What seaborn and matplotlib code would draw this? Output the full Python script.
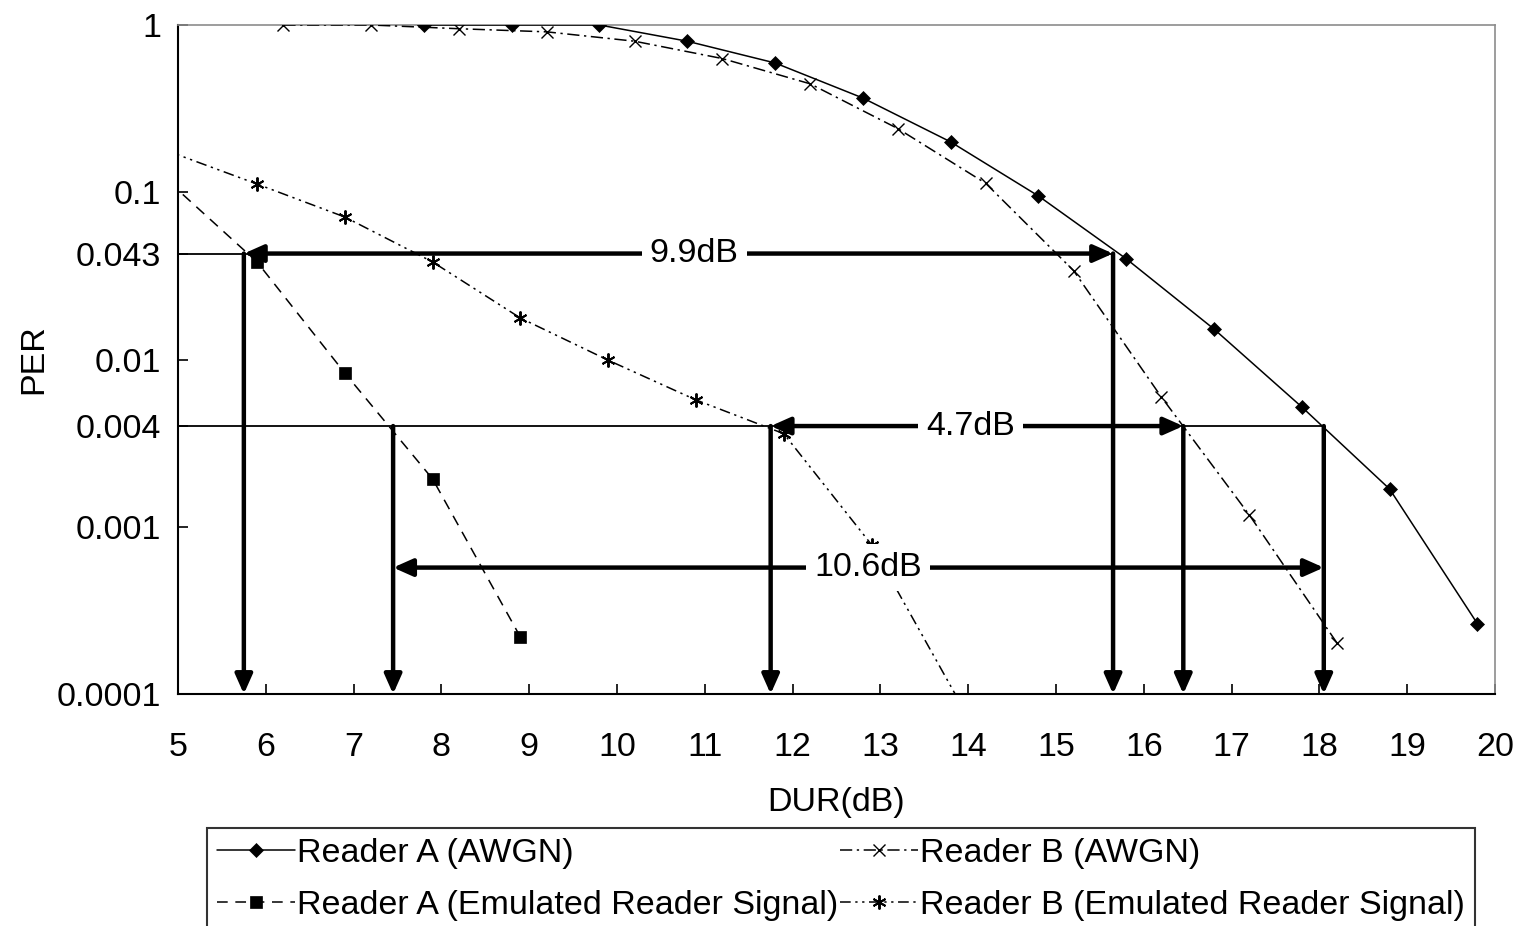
import matplotlib
matplotlib.use("Agg")
import matplotlib.pyplot as plt
import seaborn as sns
import numpy as np
from matplotlib.ticker import NullLocator, FixedLocator, FixedFormatter

# ---------------- data ----------------
a_awgn_x = [7.8, 8.8, 9.8, 10.8, 11.8, 12.8, 13.8, 14.8, 15.8, 16.8, 17.8, 18.8, 19.8]
a_awgn_y = [1.0, 1.0, 1.0, 0.80, 0.593, 0.366, 0.20, 0.095, 0.040, 0.0152, 0.0052, 0.00168, 0.000263]

b_awgn_x = [6.2, 7.2, 8.2, 9.2, 10.2, 11.2, 12.2, 13.2, 14.2, 15.2, 16.2, 17.2, 18.2]
b_awgn_y = [1.0, 1.0, 0.95, 0.91, 0.80, 0.63, 0.445, 0.24, 0.113, 0.034, 0.00597, 0.00118, 0.000202]

a_emu_x = [4.9, 5.9, 6.9, 7.9, 8.9]
a_emu_y = [0.115, 0.0383, 0.0083, 0.00193, 0.000219]

b_emu_x = [4.9, 5.9, 6.9, 7.9, 8.9, 9.9, 10.9, 11.9, 12.9, 13.9]
b_emu_y = [0.175, 0.112, 0.0711, 0.0383, 0.0177, 0.0099, 0.00573, 0.0036, 0.00078, 0.00009]

series_labels = ["Reader A (AWGN)", "Reader B (AWGN)",
                 "Reader A (Emulated Reader Signal)", "Reader B (Emulated Reader Signal)"]

ytick_vals = [1, 0.1, 0.043, 0.01, 0.004, 0.001, 0.0001]
ytick_labels = ["1", "0.1", "0.043", "0.01", "0.004", "0.001", "0.0001"]
xtick_vals = list(range(5, 21))

# annotation levels / positions (dB)
lvl_hi = 0.043
lvl_lo = 0.004
lvl_gap = 0.00057
arrow_99 = (5.75, 15.65)
arrow_47 = (11.75, 16.45)
arrow_106 = (7.45, 18.05)
txt_99, txt_47, txt_106 = "9.9dB", "4.7dB", "10.6dB"

# ---------------- style ----------------
sns.set_theme(style="white")
plt.rcParams["font.family"] = ["Liberation Sans", "DejaVu Sans"]
FS = 24.5

fig = plt.figure(figsize=(15.17, 9.26), dpi=100)
ax = fig.add_axes([178/1517, 1-694/926, (1495-178)/1517, (694-25)/926])

lw = 1.1
common = dict(ax=ax, color="black", lw=lw, markeredgecolor="black",
              markerfacecolor="black", zorder=5)
sns.lineplot(x=a_awgn_x, y=a_awgn_y, marker="D", markersize=7,
             markeredgewidth=0.5, label=series_labels[0], **common)
sns.lineplot(x=b_awgn_x, y=b_awgn_y, linestyle=(0, (8, 3, 1.5, 3)), marker="x",
             markersize=9, markeredgewidth=1.0, label=series_labels[1], **common)
sns.lineplot(x=a_emu_x, y=a_emu_y, linestyle=(0, (7, 5)), marker="s",
             markersize=8.5, markeredgewidth=0.5, label=series_labels[2], **common)
sns.lineplot(x=b_emu_x, y=b_emu_y, linestyle=(0, (7, 3, 1.5, 3, 1.5, 3)),
             marker=(6, 2, 0), markersize=10, markeredgewidth=1.4,
             label=series_labels[3], **common)

ax.set_yscale("log")
ax.set_xlim(5, 20)
ax.set_ylim(1e-4, 1)

ax.yaxis.set_major_locator(FixedLocator(ytick_vals))
ax.yaxis.set_major_formatter(FixedFormatter(ytick_labels))
ax.yaxis.set_minor_locator(NullLocator())
ax.set_xticks(xtick_vals)
ax.set_xticklabels([str(v) for v in xtick_vals])

ax.tick_params(axis="x", direction="in", length=7, width=1.2, pad=27,
               labelsize=FS, colors="black", bottom=True)
ax.tick_params(axis="y", direction="in", length=7, width=1.2, pad=12,
               labelsize=FS, colors="black", left=True)

for s in ["left", "bottom"]:
    ax.spines[s].set_color("black")
    ax.spines[s].set_linewidth(1.5)
for s in ["top", "right"]:
    ax.spines[s].set_color("#8c8c8c")
    ax.spines[s].set_linewidth(1.2)

ax.set_xlabel("DUR(dB)", fontsize=FS, color="black", labelpad=18)
ax.set_ylabel("PER", fontsize=FS, color="black")
ax.yaxis.set_label_coords(-0.098, 0.5)

# ---------------- annotations ----------------
thin = dict(color="black", lw=1.3, zorder=3)
ax.plot([5, arrow_99[1]], [lvl_hi, lvl_hi], **thin)
ax.plot([5, arrow_106[1]], [lvl_lo, lvl_lo], **thin)

AW = 3.2
head = "-|>,head_length=0.45,head_width=0.2"
dhead = "<|-|>,head_length=0.45,head_width=0.2"

def arrow(xy_from, xy_to, style=head):
    ax.annotate("", xy=xy_to, xytext=xy_from,
                arrowprops=dict(arrowstyle=style, lw=AW, color="black",
                                shrinkA=0, shrinkB=0, mutation_scale=26),
                zorder=4)

# vertical arrows
for xv in arrow_99:
    arrow((xv, lvl_hi), (xv, 1e-4))
for xv in (arrow_106[0], arrow_47[0], arrow_47[1], arrow_106[1]):
    arrow((xv, lvl_lo), (xv, 1e-4))

# horizontal double arrows
arrow((arrow_99[0], lvl_hi), (arrow_99[1], lvl_hi), dhead)
arrow((arrow_47[0], lvl_lo), (arrow_47[1], lvl_lo), dhead)
arrow((arrow_106[0], lvl_gap), (arrow_106[1], lvl_gap), dhead)

tb = dict(facecolor="white", edgecolor="none", pad=6)
ax.text(10.88, lvl_hi, txt_99, fontsize=FS, ha="center", va="center",
        bbox=tb, zorder=6, color="black")
ax.text(14.03, lvl_lo, txt_47, fontsize=FS, ha="center", va="center",
        bbox=tb, zorder=6, color="black")
ax.text(12.86, lvl_gap, txt_106, fontsize=FS, ha="center", va="center",
        bbox=tb, zorder=6, color="black")

# ---------------- legend ----------------
handles, labels = ax.get_legend_handles_labels()
order = [0, 2, 1, 3]
leg = ax.legend([handles[i] for i in order], [labels[i] for i in order],
                loc="upper left", bbox_to_anchor=(207/1517, 1-828/926),
                bbox_transform=fig.transFigure, ncol=2, fontsize=FS,
                frameon=True, fancybox=False, shadow=False, borderpad=0.3,
                labelspacing=0.6, handlelength=2.3, handletextpad=0.05,
                columnspacing=0.05, borderaxespad=0, numpoints=1)
leg.get_frame().set_edgecolor("black")
leg.get_frame().set_linewidth(1.5)
leg.get_frame().set_facecolor("white")
for t in leg.get_texts():
    t.set_color("black")

fig.canvas.draw()
# nudge legend rows down a little to match the reference row positions
bb = leg.get_window_extent()
fig.savefig("out.png", dpi=100)
